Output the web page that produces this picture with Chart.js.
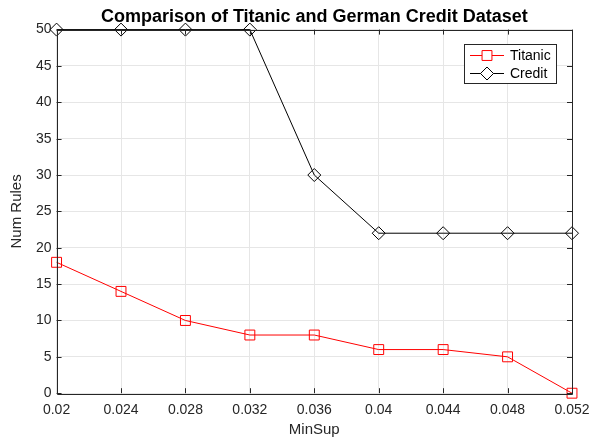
<!DOCTYPE html>
<html>
<head>
<meta charset="utf-8">
<script src="https://cdn.jsdelivr.net/npm/chart.js@4"></script>
<style>
  html, body { margin: 0; padding: 0; background: #fff; }
  #wrap { width: 590px; height: 437px; }
</style>
</head>
<body>
<div id="wrap"><canvas id="c" width="590" height="437"></canvas></div>
<script>
const minSup = [0.02, 0.024, 0.028, 0.032, 0.036, 0.04, 0.044, 0.048, 0.052];
const titanic = [18, 14, 10, 8, 8, 6, 6, 5, 0];
const credit = [50, 50, 50, 50, 30, 22, 22, 22, 22];
const xTickLabels = ['0.02', '0.024', '0.028', '0.032', '0.036', '0.04', '0.044', '0.048', '0.052'];
const yTickValues = [0, 5, 10, 15, 20, 25, 30, 35, 40, 45, 50];

const FONT = 'Liberation Sans, Arial, sans-serif';

// box, inward ticks and legend, matlab style
const matlabBox = {
    id: 'matlabBox',
    afterDatasetsDraw(chart) {
        const {ctx, chartArea: a, scales} = chart;
        ctx.save();
        ctx.strokeStyle = '#262626';
        ctx.lineWidth = 1;
        ctx.beginPath();
        ctx.rect(Math.round(a.left) + 0.5, Math.round(a.top) + 0.5,
                 Math.round(a.right - a.left), Math.round(a.bottom - a.top));
        ctx.stroke();
        const t = 5;
        ctx.beginPath();
        scales.x.ticks.forEach(tk => {
            const px = Math.round(scales.x.getPixelForValue(tk.value)) + 0.5;
            ctx.moveTo(px, a.bottom); ctx.lineTo(px, a.bottom - t);
            ctx.moveTo(px, a.top); ctx.lineTo(px, a.top + t);
        });
        scales.y.ticks.forEach(tk => {
            const py = Math.round(scales.y.getPixelForValue(tk.value)) + 0.5;
            ctx.moveTo(a.left, py); ctx.lineTo(a.left + t, py);
            ctx.moveTo(a.right, py); ctx.lineTo(a.right - t, py);
        });
        ctx.stroke();
        ctx.restore();
    },
    afterDraw(chart) {
        const {ctx, chartArea: a} = chart;
        const bx = Math.round(a.right) - 108, by = Math.round(a.top) + 14, bw = 92, bh = 39;
        ctx.save();
        ctx.fillStyle = '#fff';
        ctx.fillRect(bx, by, bw, bh);
        ctx.strokeStyle = '#262626';
        ctx.lineWidth = 1;
        ctx.strokeRect(bx + 0.5, by + 0.5, bw, bh);
        ctx.font = '14px ' + FONT;
        ctx.textBaseline = 'middle';
        chart.data.datasets.forEach((ds, i) => {
            const y = by + 11 + i * 18;
            ctx.strokeStyle = ds.borderColor;
            ctx.beginPath();
            ctx.moveTo(bx + 6, y + 0.5); ctx.lineTo(bx + 40, y + 0.5);
            ctx.stroke();
            ctx.fillStyle = '#fff';
            Chart.helpers.drawPoint(ctx, {pointStyle: ds.pointStyle, radius: ds.pointRadius, borderWidth: 1}, bx + 23, y + 0.5);
            ctx.fillStyle = '#000';
            ctx.fillText(ds.label, bx + 46, y + 1);
        });
        ctx.restore();
    }
};

new Chart(document.getElementById('c'), {
    type: 'line',
    data: {
        datasets: [
            {
                label: 'Titanic',
                data: minSup.map((x, i) => ({x: x, y: titanic[i]})),
                borderColor: '#ff0000',
                borderWidth: 1,
                pointStyle: 'rect',
                pointRadius: 7,
                pointBackgroundColor: 'rgba(0,0,0,0)',
                pointBorderColor: '#ff0000',
                pointBorderWidth: 1,
                clip: false
            },
            {
                label: 'Credit',
                data: minSup.map((x, i) => ({x: x, y: credit[i]})),
                borderColor: '#000000',
                borderWidth: 1,
                pointStyle: 'rectRot',
                pointRadius: 6.5,
                pointBackgroundColor: 'rgba(0,0,0,0)',
                pointBorderColor: '#000000',
                pointBorderWidth: 1,
                clip: false
            }
        ]
    },
    options: {
        responsive: false,
        animation: false,
        layout: { padding: { left: 8, right: 18, top: 0, bottom: -2 } },
        plugins: {
            legend: { display: false },
            tooltip: { enabled: false },
            title: {
                display: true,
                fullSize: false,
                text: 'Comparison of Titanic and German Credit Dataset',
                color: '#000',
                font: { family: FONT, size: 18, weight: 'bold' },
                padding: { top: 6, bottom: 2 }
            }
        },
        scales: {
            x: {
                type: 'linear',
                min: 0.02,
                max: 0.052,
                afterBuildTicks(scale) {
                    scale.ticks = minSup.map(v => ({value: v}));
                },
                afterFit(scale) {
                    scale.paddingRight = 0;
                    scale.paddingLeft = 0;
                },
                ticks: {
                    color: '#262626',
                    font: { family: FONT, size: 14 },
                    padding: 9,
                    maxRotation: 0,
                    autoSkip: false,
                    callback: (v, i) => xTickLabels[i]
                },
                grid: { color: '#e6e6e6', drawTicks: false },
                border: { display: false },
                title: {
                    display: true,
                    text: 'MinSup',
                    color: '#262626',
                    font: { family: FONT, size: 15 },
                    padding: { top: -7, bottom: 0 }
                }
            },
            y: {
                min: 0,
                max: 50,
                afterBuildTicks(scale) {
                    scale.ticks = yTickValues.map(v => ({value: v}));
                },
                ticks: {
                    color: '#262626',
                    font: { family: FONT, size: 14 },
                    padding: 5
                },
                grid: { color: '#e6e6e6', drawTicks: false },
                border: { display: false },
                title: {
                    display: true,
                    text: 'Num Rules',
                    color: '#262626',
                    font: { family: FONT, size: 15 },
                    padding: { top: 0, bottom: 5 }
                }
            }
        }
    },
    plugins: [matlabBox]
});
</script>
</body>
</html>
